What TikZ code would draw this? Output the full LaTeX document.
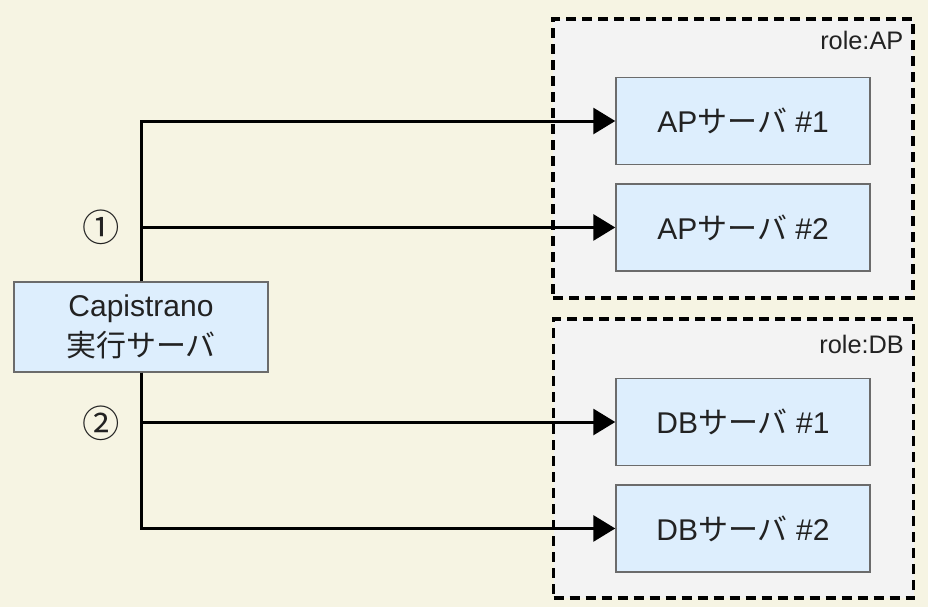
\documentclass[tikz,border=0pt]{standalone}
\usepackage{fontspec}
\setmainfont{Liberation Sans}
\newfontfamily\jpfont{Noto Sans CJK JP}
\usetikzlibrary{positioning,calc,arrows.meta}
\definecolor{paper}{HTML}{F6F4E3}
\definecolor{groupfill}{HTML}{F3F3F3}
\definecolor{boxfill}{HTML}{DDEEFD}
\definecolor{boxline}{HTML}{6B6B6B}
\definecolor{ink}{HTML}{222222}

\begin{document}
\begin{tikzpicture}[
    x=0.75pt, y=-0.75pt,
    server/.style={rectangle, draw=boxline, fill=boxfill, line width=1.1pt, minimum width=190.5pt, minimum height=65.25pt, inner sep=0pt, text=ink, font=\fontsize{22.5}{30}\selectfont},
    rolegroup/.style={rectangle, draw=black, fill=groupfill, line width=2.4pt, dash pattern=on 7.5pt off 4.5pt, minimum width=270pt, minimum height=209.25pt},
    rolelabel/.style={anchor=east, inner sep=0pt, text=ink, font=\fontsize{19}{22}\selectfont},
    num/.style={text=ink, font=\jpfont\fontsize{28}{30}\selectfont},
    arrow/.style={-{Triangle[length=16.5pt, width=19.5pt]}, line width=2.25pt, black}
]
    % Canvas
    \fill[paper] (0,0) rectangle (928,607);
    \useasboundingbox (0,0) rectangle (928,607);

    % Role groups
    \node[rolegroup] (aprole) at (733,158.5) {};
    \node[rolegroup] (dbrole) at (733.5,458.5) {};
    \node[rolelabel] (aplabel) at ($(aprole.north east)+(-11,23)$) {role:AP};
    \node[rolelabel] (dblabel) at ($(dbrole.north east)+(-11,27)$) {role:DB};

    % Servers
    \node[server] (ap1) at (743,121) {AP{\jpfont サーバ} \#1};
    \node[server, below=13.5pt of ap1] (ap2) {AP{\jpfont サーバ} \#2};
    \node[server] (db1) at (743,422) {DB{\jpfont サーバ} \#1};
    \node[server, below=13.5pt of db1] (db2) {DB{\jpfont サーバ} \#2};

    % Capistrano host
    \node[server, minimum height=67.5pt, align=center] (cap) at (141,327) {Capistrano\\{\jpfont 実行サーバ}};

    % Arrows
    \draw[arrow] (cap.north) |- (ap1.west);
    \draw[arrow] (cap.north) |- (ap2.west);
    \draw[arrow] (cap.south) |- (db1.west);
    \draw[arrow] (cap.south) |- (db2.west);

    % Step numbers
    \node[num] (one) at (101.5,227.5) {①};
    \node[num] (two) at (101.5,423) {②};
\end{tikzpicture}
\end{document}
